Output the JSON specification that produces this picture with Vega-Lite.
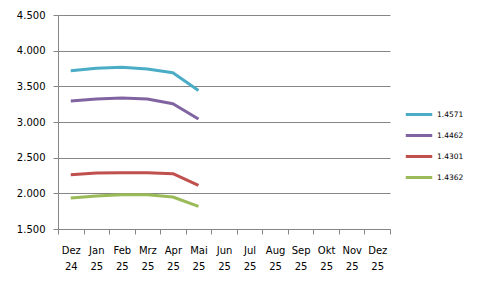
{
  "$schema": "https://vega.github.io/schema/vega-lite/v6.json",
  "width": 332,
  "height": 214,
  "autosize": {"type": "none"},
  "padding": {"left": 58, "top": 15, "right": 93, "bottom": 62},
  "background": "white",
  "config": {
    "locale": {"number": {"decimal": ",", "thousands": ".", "grouping": [3], "currency": ["", " €"]}},
    "view": {"stroke": null},
    "font": "DejaVu Sans"
  },
  "data": {
    "values": [
      {"monat": "Dez 24", "serie": "1.4571", "wert": 3717},
      {"monat": "Jan 25", "serie": "1.4571", "wert": 3752},
      {"monat": "Feb 25", "serie": "1.4571", "wert": 3766},
      {"monat": "Mrz 25", "serie": "1.4571", "wert": 3743},
      {"monat": "Apr 25", "serie": "1.4571", "wert": 3690},
      {"monat": "Mai 25", "serie": "1.4571", "wert": 3443},
      {"monat": "Dez 24", "serie": "1.4462", "wert": 3295},
      {"monat": "Jan 25", "serie": "1.4462", "wert": 3323},
      {"monat": "Feb 25", "serie": "1.4462", "wert": 3337},
      {"monat": "Mrz 25", "serie": "1.4462", "wert": 3323},
      {"monat": "Apr 25", "serie": "1.4462", "wert": 3257},
      {"monat": "Mai 25", "serie": "1.4462", "wert": 3042},
      {"monat": "Dez 24", "serie": "1.4301", "wert": 2261},
      {"monat": "Jan 25", "serie": "1.4301", "wert": 2285},
      {"monat": "Feb 25", "serie": "1.4301", "wert": 2289},
      {"monat": "Mrz 25", "serie": "1.4301", "wert": 2289},
      {"monat": "Apr 25", "serie": "1.4301", "wert": 2275},
      {"monat": "Mai 25", "serie": "1.4301", "wert": 2111},
      {"monat": "Dez 24", "serie": "1.4362", "wert": 1935},
      {"monat": "Jan 25", "serie": "1.4362", "wert": 1963},
      {"monat": "Feb 25", "serie": "1.4362", "wert": 1981},
      {"monat": "Mrz 25", "serie": "1.4362", "wert": 1981},
      {"monat": "Apr 25", "serie": "1.4362", "wert": 1949},
      {"monat": "Mai 25", "serie": "1.4362", "wert": 1817}
    ]
  },
  "mark": {"type": "line", "strokeWidth": 3, "strokeCap": "butt", "strokeJoin": "round"},
  "encoding": {
    "x": {
      "field": "monat",
      "type": "nominal",
      "sort": null,
      "scale": {
        "type": "band",
        "paddingInner": 0,
        "paddingOuter": 0,
        "domain": ["Dez 24", "Jan 25", "Feb 25", "Mrz 25", "Apr 25", "Mai 25", "Jun 25", "Jul 25", "Aug 25", "Sep 25", "Okt 25", "Nov 25", "Dez 25"]
      },
      "axis": {
        "title": null,
        "tickBand": "extent",
        "tickExtra": true,
        "labelAngle": 0,
        "labelExpr": "split(datum.label, ' ')",
        "labelLineHeight": 16,
        "labelFontSize": 10,
        "labelColor": "#000000",
        "labelPadding": 11,
        "labelBaseline": "top",
        "ticks": true,
        "tickSize": 5,
        "tickWidth": 1,
        "tickOpacity": 1,
        "tickColor": "#868686",
        "domainColor": "#868686",
        "grid": false
      }
    },
    "y": {
      "field": "wert",
      "type": "quantitative",
      "scale": {"domain": [1500, 4500], "nice": false, "zero": false},
      "axis": {
        "title": null,
        "values": [1500, 2000, 2500, 3000, 3500, 4000, 4500],
        "format": ",.0f",
        "labelFontSize": 10,
        "labelColor": "#000000",
        "labelPadding": 8,
        "tickSize": 5,
        "tickColor": "#868686",
        "domainColor": "#868686",
        "grid": true,
        "gridColor": "#868686",
        "gridOpacity": 1
      }
    },
    "color": {
      "field": "serie",
      "type": "nominal",
      "scale": {
        "domain": ["1.4571", "1.4462", "1.4301", "1.4362"],
        "range": ["#4BACC6", "#8064A2", "#C0504D", "#9BBB59"]
      },
      "legend": {
        "title": null,
        "orient": "none",
        "legendX": 346,
        "legendY": 84.5,
        "symbolType": "stroke",
        "symbolSize": 700,
        "symbolStrokeWidth": 3,
        "labelFontSize": 7.5,
        "labelColor": "#000000",
        "labelOffset": 3,
        "rowPadding": -5,
        "padding": 0
      }
    }
  }
}
